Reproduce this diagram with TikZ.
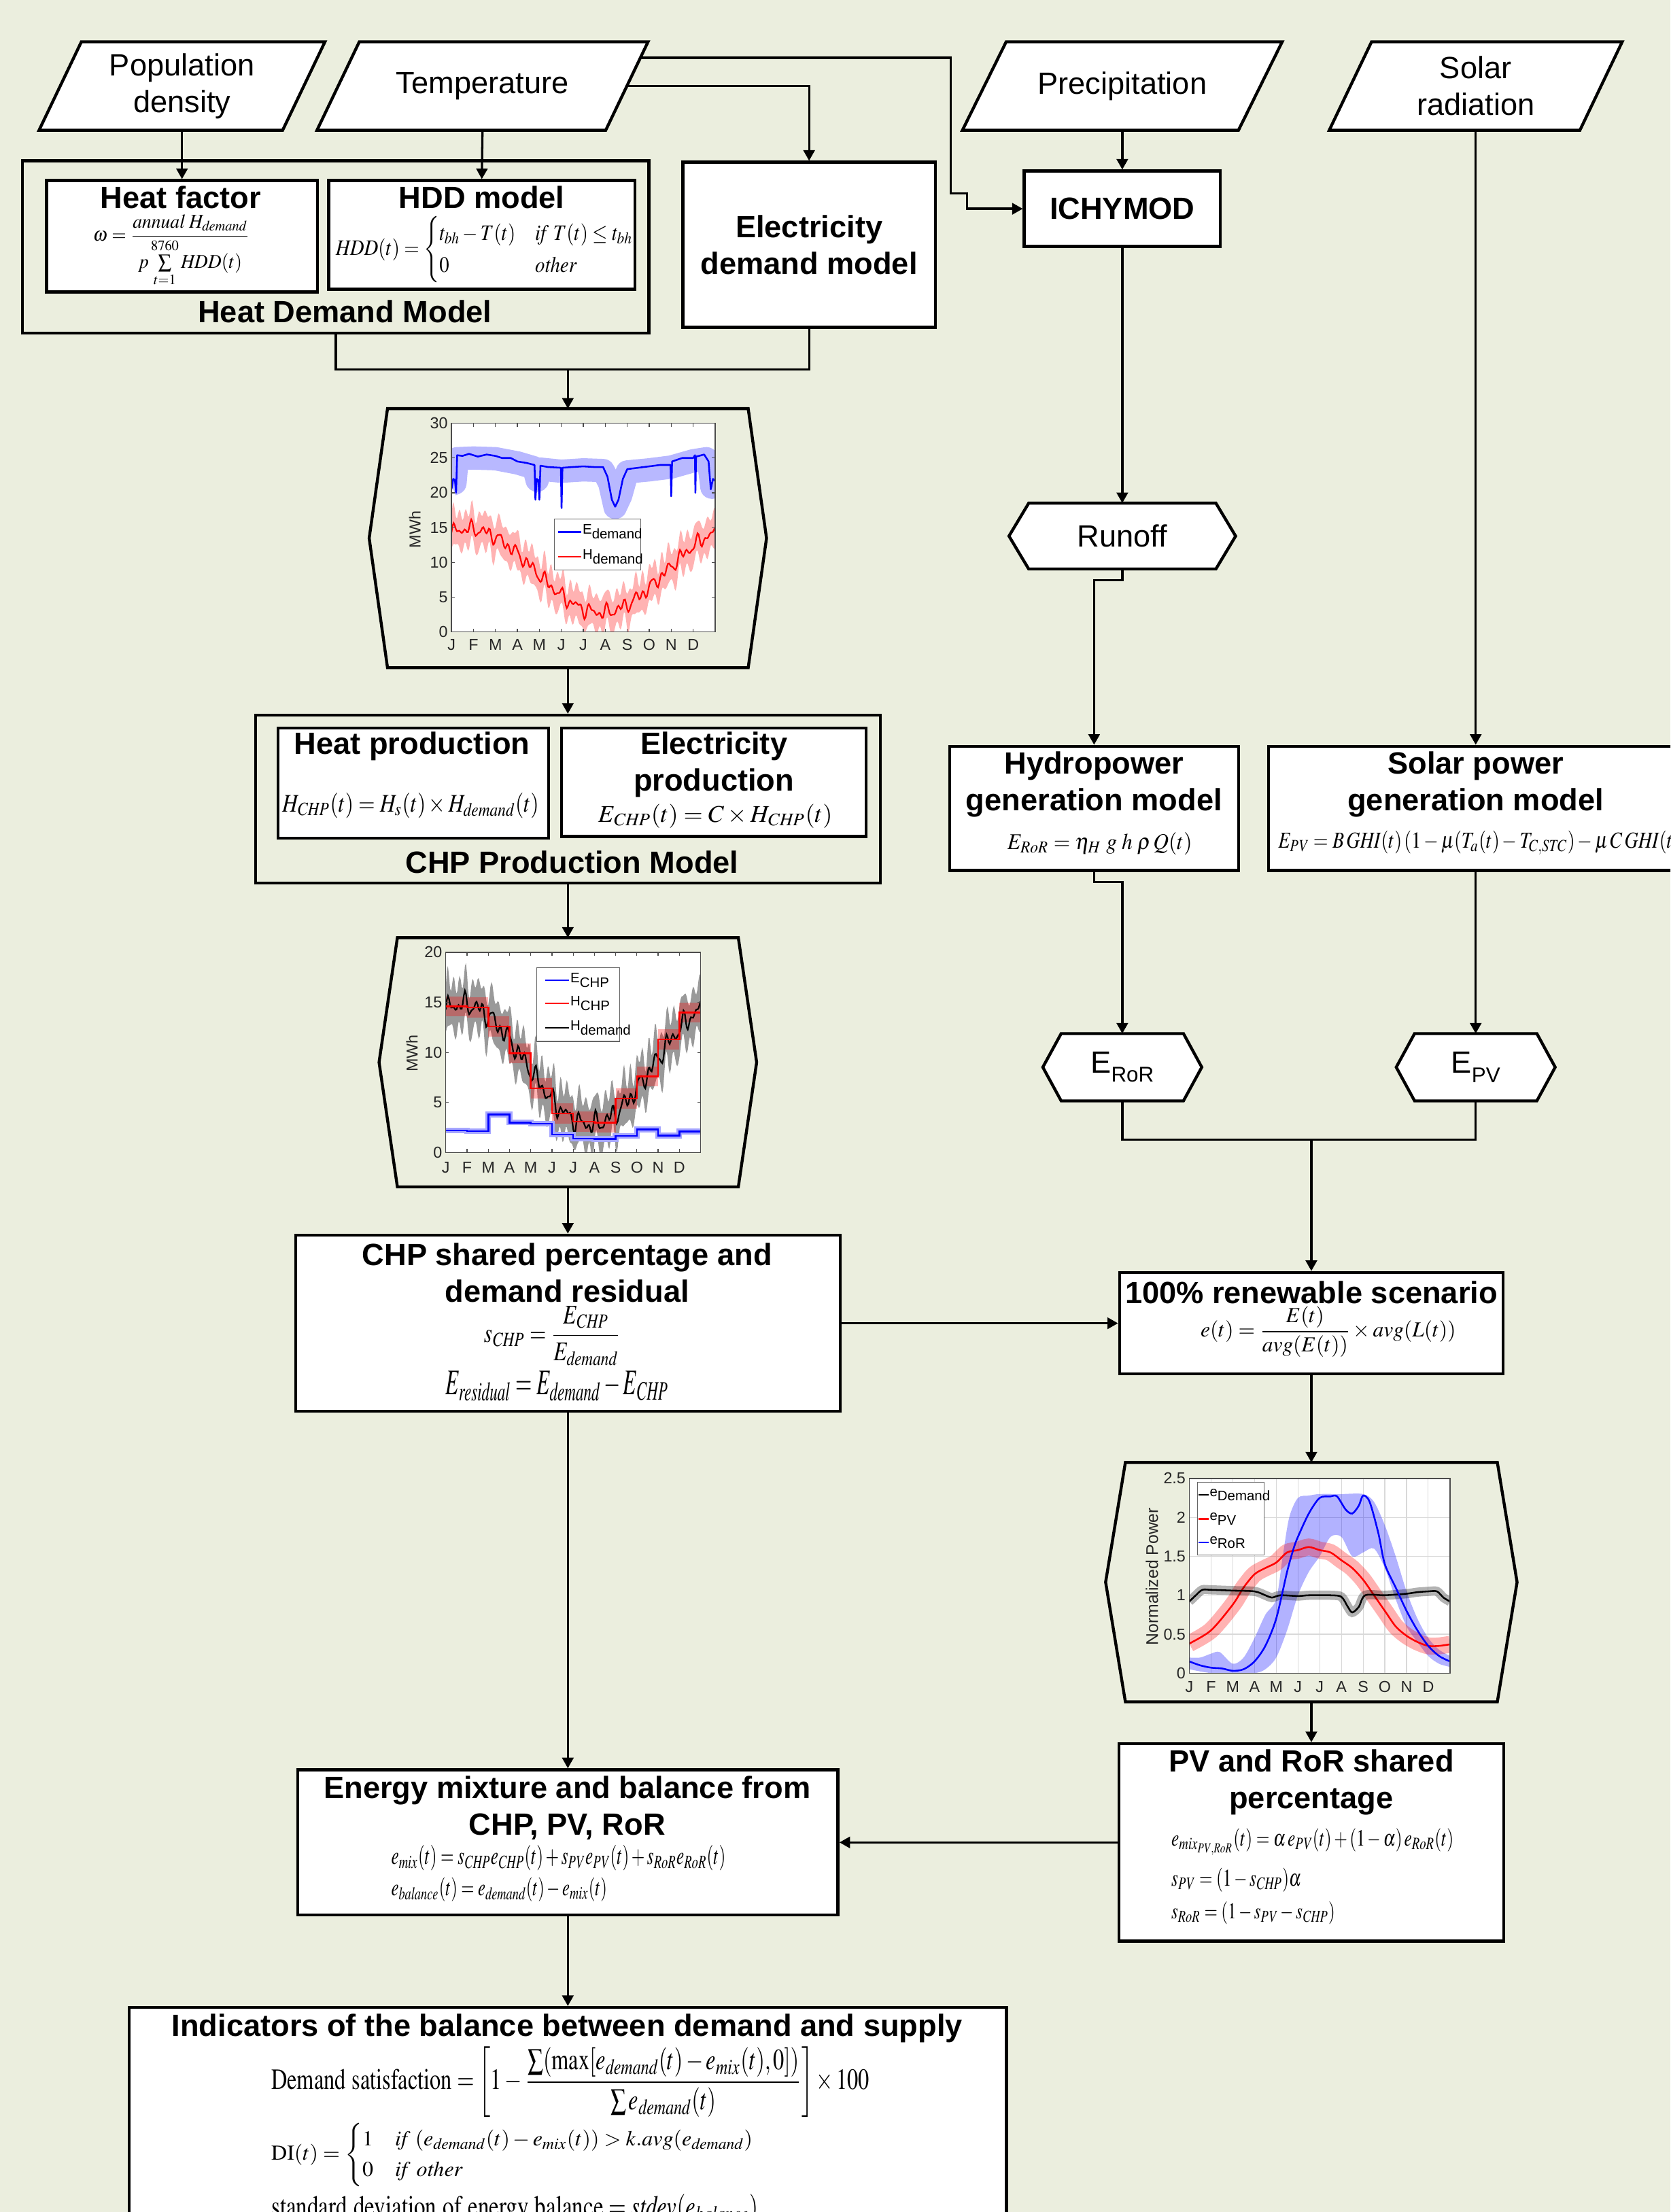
\documentclass[tikz,border=0pt]{standalone}
\usepackage{amsmath}
\usepackage{mathptmx}
\usepackage[no-math]{fontspec}
\setmainfont{Liberation Sans}
\usetikzlibrary{arrows.meta}

\definecolor{paper}{RGB}{235,238,222}

% noisy heat demand curve, x in months
\newcommand{\Hdem}{(8.8+6.0*cos(30*(\x-0.8))+0.6*sin(523*\x)+0.5*sin(877*\x)+0.35*sin(1291*\x))}
% frames drawn round a (ghost) node
\newcommand{\slantframe}[2]{\draw[line width=1.2pt, fill=white] ([xshift=#2]#1.north west) -- ([xshift=#2]#1.north east) -- ([xshift=-#2]#1.south east) -- ([xshift=-#2]#1.south west) -- cycle;}
\newcommand{\hexframe}[3]{\draw[line width=1.2pt, fill=#3] (#1.north west) -- (#1.north east) -- ([xshift=#2]#1.east) -- (#1.south east) -- (#1.south west) -- ([xshift=-#2]#1.west) -- cycle;}
\newcommand{\fiteq}[3]{\resizebox*{#1}{#2}{$\displaystyle #3$}}
\newcommand{\lsub}[2]{#1\raisebox{-0.6ex}{#2}}
\newcommand{\hsub}[2]{#1\raisebox{-0.55ex}{\fontsize{8.6}{9}\selectfont #2}}

\begin{document}
\begin{tikzpicture}[x=0.02cm, y=-0.02cm,
    box/.style={draw, line width=1.2pt, fill=white, inner sep=0pt},
    grp/.style={draw, line width=1.2pt, inner sep=0pt},
    ghost/.style={inner sep=0pt},
    flow/.style={line width=0.9pt, -{Triangle[length=0.15cm, width=0.16cm]}},
    wire/.style={line width=0.9pt},
    ttl/.style={font=\bfseries\fontsize{12.4}{14.8}\selectfont, align=center, inner sep=0pt},
    lbl/.style={font=\fontsize{12.4}{14.8}\selectfont, align=center, inner sep=0pt},
    eq/.style={inner sep=0pt},
    ticklbl/.style={font=\fontsize{6.4}{7}\selectfont, inner sep=0pt, text=black!85},
    leg/.style={font=\fontsize{5.6}{6}\selectfont, inner sep=0pt, anchor=west},
    axisbox/.style={draw=black!70, line width=0.35pt},
    legbox/.style={draw=black!60, fill=white, line width=0.3pt}]

    \useasboundingbox (0,0) rectangle (1184,1568);
    \clip (0,0) rectangle (1184,1568);
    \fill[paper] (0,0) rectangle (1184,1568);

    % Input data
    \node[ghost, minimum width=3.44cm, minimum height=1.24cm] (pop) at (129,61) {};
    \slantframe{pop}{0.3cm}
    \node[lbl] (poptxt) at (pop.center) {Population\\density};
    \node[ghost, minimum width=4.08cm, minimum height=1.24cm] (temp) at (342,61) {};
    \slantframe{temp}{0.3cm}
    \node[lbl] (temptxt) at (temp.center) {Temperature};
    \node[ghost, minimum width=3.9cm, minimum height=1.24cm] (precip) at (795.5,61) {};
    \slantframe{precip}{0.31cm}
    \node[lbl] (preciptxt) at (precip.center) {Precipitation};
    \node[ghost, minimum width=3.54cm, minimum height=1.24cm] (solar) at (1046,61) {};
    \slantframe{solar}{0.3cm}
    \node[lbl] (solartxt) at (solar.center) {Solar\\radiation};

    % Heat Demand Model
    \node[grp, minimum width=8.88cm, minimum height=2.44cm] (heatdem) at (238,175) {};
    \node[box, minimum width=3.84cm, minimum height=1.58cm] (heatfac) at (129,167.5) {};
    \node[ttl] (heatfactxt) at (128,140) {Heat factor};
    \node[eq] (heatfaceq) at (121.5,177.5) {\fiteq{2.22cm}{1.02cm}{\omega=\frac{\mathit{annual}\;H_{\mathit{demand}}}{p\sum\limits_{t=1}^{8760}\mathit{HDD}(t)}}};
    \node[box, minimum width=4.34cm, minimum height=1.54cm] (hdd) at (341.5,166.5) {};
    \node[ttl] (hddtxt) at (341.5,140) {HDD model};
    \node[eq] (hddeq) at (344,177) {\fiteq{4.24cm}{0.94cm}{\mathit{HDD}(t)=\begin{cases}t_{bh}-T(t) & \mathit{if}\;T(t)\le t_{bh}\\ 0 & \mathit{other}\end{cases}}};
    \node[ttl] (heatdemtxt) at (244.5,221) {Heat Demand Model};

    % Electricity demand and hydrology
    \node[box, ttl, minimum width=3.58cm, minimum height=2.34cm] (elecdem) at (573.5,173.5) {Electricity\\demand model};
    \node[box, ttl, minimum width=2.78cm, minimum height=1.07cm] (ichymod) at (795.5,148) {ICHYMOD};
    \node[ghost, minimum width=2.64cm, minimum height=0.92cm] (runoff) at (795.5,380) {};
    \hexframe{runoff}{0.28cm}{white}
    \node[lbl] (runofftxt) at (runoff.center) {Runoff};

    % CHP Production Model
    \node[grp, minimum width=8.86cm, minimum height=2.38cm] (chpmodel) at (402.5,566.5) {};
    \node[box, minimum width=3.84cm, minimum height=1.56cm] (heatprod) at (293,555) {};
    \node[ttl] (heatprodtxt) at (292,529) {Heat production};
    \node[eq] (heatprodeq) at (291,571) {\fiteq{3.64cm}{0.36cm}{H_{\mathit{CHP}}(t)=H_s(t)\times H_{\mathit{demand}}(t)}};
    \node[box, minimum width=4.32cm, minimum height=1.54cm] (elecprod) at (506,554.5) {};
    \node[ttl] (elecprodtxt) at (506,542) {Electricity\\production};
    \node[eq] (elecprodeq) at (507,578.5) {\fiteq{3.32cm}{0.34cm}{E_{\mathit{CHP}}(t)=C\times H_{\mathit{CHP}}(t)}};
    \node[ttl] (chpmodeltxt) at (405.5,611) {CHP Production Model};

    % Generation models
    \node[box, minimum width=4.1cm, minimum height=1.76cm] (hydro) at (775.5,573) {};
    \node[ttl] (hydrotxt) at (775.5,556) {Hydropower\\generation model};
    \node[eq] (hydroeq) at (779.5,598) {\fiteq{2.62cm}{0.32cm}{E_{\mathit{RoR}}=\eta_H\;g\;h\;\rho\,Q(t)}};
    \node[box, minimum width=5.88cm, minimum height=1.76cm] (solarpow) at (1046,573) {};
    \node[ttl] (solarpowtxt) at (1046,556) {Solar power\\generation model};
    \node[eq] (solarpoweq) at (1048.5,597.5) {\fiteq{5.7cm}{0.34cm}{E_{\mathit{PV}}=B\,\mathit{GHI}(t)\,(1-\mu(T_a(t)-T_{C,\mathit{STC}})-\mu\,C\,\mathit{GHI}(t)}};

    \node[ghost, minimum width=1.72cm, minimum height=0.94cm] (eror) at (795.5,756.5) {};
    \hexframe{eror}{0.26cm}{white}
    \node[lbl] (erortxt) at (eror.center) {\hsub{E}{RoR}};
    \node[ghost, minimum width=1.72cm, minimum height=0.94cm] (epv) at (1046,756.5) {};
    \hexframe{epv}{0.26cm}{white}
    \node[lbl] (epvtxt) at (epv.center) {\hsub{E}{PV}};

    % Shares and scenario
    \node[box, minimum width=7.72cm, minimum height=2.5cm] (chpshare) at (402.5,938) {};
    \node[ttl] (chpsharetxt) at (402,902) {CHP shared percentage and\\demand residual};
    \node[eq] (chpshareeq) at (391.5,947) {\fiteq{1.94cm}{0.84cm}{s_{\mathit{CHP}}=\frac{E_{\mathit{CHP}}}{E_{\mathit{demand}}}}};
    \node[eq] (residualeq) at (395,982.5) {\fiteq{3.16cm}{0.42cm}{E_{\mathit{residual}}=E_{\mathit{demand}}-E_{\mathit{CHP}}}};
    \node[box, minimum width=5.44cm, minimum height=1.44cm] (renew) at (929.5,938) {};
    \node[ttl] (renewtxt) at (929.5,916) {100\% renewable scenario};
    \node[eq] (reneweq) at (941.5,944) {\fiteq{3.62cm}{0.72cm}{e(t)=\frac{E(t)}{\mathit{avg}(E(t))}\times\mathit{avg}(L(t))}};

    \node[box, minimum width=5.46cm, minimum height=2.8cm] (pvror) at (929.5,1306) {};
    \node[ttl] (pvrortxt) at (929.5,1263.5) {PV and RoR shared\\percentage};
    \node[eq, anchor=west] (pvroreqa) at (830,1305.5) {\fiteq{4.0cm}{0.38cm}{e_{\mathit{mix}_{\mathit{PV},\mathit{RoR}}}(t)=\alpha\,e_{\mathit{PV}}(t)+(1-\alpha)\,e_{\mathit{RoR}}(t)}};
    \node[eq, anchor=west] (pvroreqb) at (830,1332.5) {\fiteq{1.84cm}{0.34cm}{s_{\mathit{PV}}=(1-s_{\mathit{CHP}})\alpha}};
    \node[eq, anchor=west] (pvroreqc) at (830,1356) {\fiteq{2.32cm}{0.32cm}{s_{\mathit{RoR}}=(1-s_{\mathit{PV}}-s_{\mathit{CHP}})}};

    \node[box, minimum width=7.66cm, minimum height=2.06cm] (mix) at (402.5,1306) {};
    \node[ttl] (mixtxt) at (402,1281.5) {Energy mixture and balance from\\CHP, PV, RoR};
    \node[eq, anchor=west] (mixeqa) at (277,1317) {\fiteq{4.74cm}{0.36cm}{e_{\mathit{mix}}(t)=s_{\mathit{CHP}}e_{\mathit{CHP}}(t)+s_{\mathit{PV}}e_{\mathit{PV}}(t)+s_{\mathit{RoR}}e_{\mathit{RoR}}(t)}};
    \node[eq, anchor=west] (mixeqb) at (277,1339.5) {\fiteq{3.06cm}{0.34cm}{e_{\mathit{balance}}(t)=e_{\mathit{demand}}(t)-e_{\mathit{mix}}(t)}};

    % Indicators
    \node[box, minimum width=12.44cm, minimum height=3.54cm] (indic) at (402.5,1511.5) {};
    \node[ttl] (indictxt) at (402,1438) {Indicators of the balance between demand and supply};
    \node[eq, anchor=west] (satiseq) at (192,1476) {\fiteq{8.48cm}{1.0cm}{\mathrm{Demand\ satisfaction}=\left[1-\frac{\sum(\max[e_{\mathit{demand}}(t)-e_{\mathit{mix}}(t),0])}{\sum e_{\mathit{demand}}(t)}\right]\times 100}};
    \node[eq, anchor=west] (dieq) at (192,1527.5) {\fiteq{6.86cm}{0.9cm}{\mathrm{DI}(t)=\begin{cases}1 & \mathit{if}\;(e_{\mathit{demand}}(t)-e_{\mathit{mix}}(t))>k.\mathit{avg}(e_{\mathit{demand}})\\ 0 & \mathit{if\ other}\end{cases}}};
    \node[eq, anchor=west] (stdeq) at (192,1566) {\fiteq{6.9cm}{0.42cm}{\mathrm{standard\ deviation\ of\ energy\ balance}=\mathit{stdev}(e_{\mathit{balance}})}};

    % Plot frames
    \node[ghost, minimum width=5.1cm, minimum height=3.66cm] (plotA) at (402.5,381.5) {};
    \hexframe{plotA}{0.26cm}{none}
    \node[ghost, minimum width=4.82cm, minimum height=3.52cm] (plotB) at (402.5,753) {};
    \hexframe{plotB}{0.26cm}{none}
    \node[ghost, minimum width=5.26cm, minimum height=3.38cm] (plotC) at (929.5,1121.5) {};
    \hexframe{plotC}{0.28cm}{none}

    % Demand plot
    \begin{scope}[shift={(320,448)}, x=0.3116cm, y=0.0987cm]
        \fill[white] (0,0) rectangle (12,30);
        \begin{scope}
            \clip (0,0) rectangle (12,30);
            \fill[red!30] plot[domain=0:12, samples=241] (\x,{\Hdem+2.4+0.7*sin(1213*\x)}) -- plot[domain=12:0, samples=241] (\x,{\Hdem-2.4-0.6*sin(997*\x)}) -- cycle;
            \draw[red, line width=0.6pt] plot[domain=0:12, samples=241] (\x,{\Hdem});
            \draw[blue!28, line width=0.33cm, line join=round] plot coordinates {(0,21.2) (0.16,21.4) (0.26,24.9) (1,25.0) (2,24.9) (3,24.3) (3.75,23.6) (3.9,21.8) (4.05,23.4) (5,23.1) (6,23.3) (6.9,23.2) (7.2,21.4) (7.45,17.9) (7.7,19.6) (8.0,23.0) (9,23.3) (10,23.7) (11,24.6) (11.6,24.9) (11.75,23.4) (11.85,20.8) (12,21.4)};
            \draw[blue, line width=0.7pt, line join=round] plot coordinates {(0,20.5) (0.08,22) (0.16,21.8) (0.21,20) (0.26,25.4) (0.5,25.3) (0.8,25.6) (1.2,25.2) (1.6,25.5) (2.0,25.3) (2.3,25.0) (2.7,25.0) (3.0,24.5) (3.4,24.3) (3.78,24) (3.82,19) (3.88,22) (3.96,21.8) (4.0,19) (4.05,23.9) (4.4,23.7) (4.98,23.6) (5.01,17.8) (5.05,23.6) (5.5,23.7) (6.0,23.8) (6.5,23.7) (6.9,23.7) (7.1,22.3) (7.3,19) (7.45,18) (7.6,19) (7.8,22) (8.0,23.4) (8.5,23.6) (9.0,23.8) (9.5,24) (9.97,24.0) (10.0,19.5) (10.04,24.5) (10.5,25.0) (11.0,25.0) (11.08,25.4) (11.1,20) (11.13,25.2) (11.5,25.5) (11.7,24.5) (11.8,20.5) (11.9,22) (12,21.7)};
        \end{scope}
        \draw[axisbox] (0,0) rectangle (12,30);
        \foreach \v [count=\i] in {0,5,...,30} {
            \draw[axisbox] (0,\v) -- (0.15,\v) (12,\v) -- (11.85,\v);
            \node[ticklbl, anchor=east] (yA\i) at (-0.15,\v) {\v};
        }
        \foreach \mo [count=\i from 0] in {J,F,M,A,M,J,J,A,S,O,N,D} {
            \draw[axisbox] (\i,0) -- (\i,0.5) (\i,30) -- (\i,29.5);
            \node[ticklbl] (xA\i) at (\i,-1.8) {\mo};
        }
        \node[ticklbl, rotate=90] (ylabA) at (-1.67,14.7) {MWh};
        \draw[legbox] (4.69,8.9) rectangle (8.6,16.2);
        \draw[blue, line width=0.7pt] (4.85,14.4) -- (5.9,14.4);
        \node[leg] (legA1) at (5.95,14.4) {\lsub{E}{demand}};
        \draw[red, line width=0.7pt] (4.85,10.8) -- (5.9,10.8);
        \node[leg] (legA2) at (5.95,10.8) {\lsub{H}{demand}};
    \end{scope}

    % CHP plot
    \begin{scope}[shift={(316,817)}, x=0.301cm, y=0.142cm]
        \fill[white] (0,0) rectangle (12,20);
        \begin{scope}
            \clip (0,0) rectangle (12,20);
            \fill[black!40] plot[domain=0:12, samples=241] (\x,{\Hdem+2.3+0.8*sin(1213*\x)}) -- plot[domain=12:0, samples=241] (\x,{\Hdem-2.3-0.7*sin(997*\x)}) -- cycle;
            \foreach \v [count=\i from 0] in {14.6,14.5,12.6,9.9,6.4,3.9,3.1,3.0,5.4,7.6,11.3,14.0}
                \fill[red, opacity=0.3] (\i,\v-1) rectangle (\i+1,\v+1);
            \draw[black, line width=0.6pt] plot[domain=0:12, samples=241] (\x,{\Hdem});
            \draw[red, line width=0.7pt] (0,14.6) -| (1,14.5) -| (2,12.6) -| (3,9.9) -| (4,6.4) -| (5,3.9) -| (6,3.1) -| (7,3.0) -| (8,5.4) -| (9,7.6) -| (10,11.3) -| (11,14.0) -- (12,14.0);
            \draw[blue, line width=0.7pt, preaction={draw=blue!35, line width=0.08cm}] (0,2.2) -| (1,2.15) -| (2,3.8) -| (3,3.0) -| (4,2.9) -| (5,1.8) -| (6,1.4) -| (7,1.35) -| (8,1.65) -| (9,2.3) -| (10,1.7) -| (11,2.1) -- (12,2.1);
        \end{scope}
        \draw[axisbox] (0,0) rectangle (12,20);
        \foreach \v [count=\i] in {0,5,...,20} {
            \draw[axisbox] (0,\v) -- (0.15,\v) (12,\v) -- (11.85,\v);
            \node[ticklbl, anchor=east] (yB\i) at (-0.15,\v) {\v};
        }
        \foreach \mo [count=\i from 0] in {J,F,M,A,M,J,J,A,S,O,N,D} {
            \draw[axisbox] (\i,0) -- (\i,0.35) (\i,20) -- (\i,19.65);
            \node[ticklbl] (xB\i) at (\i,-1.5) {\mo};
        }
        \node[ticklbl, rotate=90] (ylabB) at (-1.6,9.9) {MWh};
        \draw[legbox] (4.27,11.1) rectangle (8.2,18.45);
        \draw[blue, line width=0.7pt] (4.67,17.2) -- (5.8,17.2);
        \node[leg] (legB1) at (5.85,17.2) {\lsub{E}{CHP}};
        \draw[red, line width=0.7pt] (4.67,14.9) -- (5.8,14.9);
        \node[leg] (legB2) at (5.85,14.9) {\lsub{H}{CHP}};
        \draw[black, line width=0.7pt] (4.67,12.45) -- (5.8,12.45);
        \node[leg] (legB3) at (5.85,12.45) {\lsub{H}{demand}};
    \end{scope}

    % Normalized power plot
    \begin{scope}[shift={(843,1186)}, x=0.308cm, y=1.104cm]
        \fill[white] (0,0) rectangle (12,2.5);
        \foreach \m in {1,...,11} \draw[black!15, line width=0.3pt] (\m,0) -- (\m,2.5);
        \foreach \v in {0.5,1,1.5,2} \draw[black!15, line width=0.3pt] (0,\v) -- (12,\v);
        \begin{scope}
            \clip (0,0) rectangle (12,2.5);
            \fill[blue, opacity=0.3] plot[smooth] coordinates {(0,0.2) (0.5,0.2) (1,0.25) (1.4,0.27) (2,0.12) (2.5,0.2) (3,0.45) (3.5,0.75) (4,0.95) (4.3,1.5) (4.6,2.0) (5,2.25) (5.5,2.28) (6,2.3) (7,2.3) (8,2.3) (8.5,2.2) (9,1.9) (9.5,1.5) (10,1.05) (10.5,0.7) (11,0.45) (11.5,0.3) (12,0.22)} -- plot[smooth] coordinates {(12,0.08) (11.5,0.12) (11,0.22) (10.5,0.4) (10,0.6) (9.5,0.95) (9,1.35) (8.5,1.6) (8,1.55) (7.5,1.5) (7,1.75) (6.5,1.75) (6,1.5) (5.5,1.3) (5,1.0) (4.5,0.55) (4,0.2) (3.5,0.05) (3,0) (2,0) (1,0) (0,0.05)} -- cycle;
            \draw[red, line width=0.7pt, preaction={draw=red, draw opacity=0.3, line width=0.24cm}] plot[smooth] coordinates {(0,0.38) (1,0.55) (2,0.88) (2.5,1.1) (3,1.27) (3.5,1.35) (4,1.42) (4.5,1.55) (5,1.58) (5.5,1.62) (6,1.58) (6.5,1.55) (7,1.45) (7.5,1.35) (8,1.2) (8.5,1.0) (9,0.8) (9.5,0.6) (10,0.48) (10.5,0.4) (11,0.35) (11.5,0.35) (12,0.37)};
            \draw[black, line width=0.7pt, preaction={draw=black, draw opacity=0.3, line width=0.13cm}] plot[smooth] coordinates {(0,0.92) (0.3,1.0) (0.6,1.07) (1,1.07) (2,1.06) (3,1.05) (3.5,1.0) (3.8,0.97) (4.2,1.0) (5,0.99) (5.5,1.0) (6.5,1.0) (7,0.98) (7.3,0.85) (7.5,0.78) (7.8,0.85) (8.1,1.0) (9,1.0) (10,1.02) (10.5,1.04) (11,1.05) (11.4,1.05) (11.7,0.97) (12,0.92)};
            \draw[blue, line width=0.7pt] plot[smooth] coordinates {(0,0.15) (0.5,0.1) (1,0.07) (1.5,0.06) (2,0.03) (2.5,0.05) (3,0.15) (3.5,0.35) (4,0.7) (4.5,1.3) (4.8,1.6) (5,1.75) (5.5,2.05) (6,2.25) (6.5,2.27) (6.8,2.27) (7.2,2.1) (7.5,2.05) (7.8,2.15) (8,2.28) (8.3,2.2) (8.7,1.8) (9,1.4) (9.5,1.1) (10,0.8) (10.5,0.55) (11,0.35) (11.5,0.22) (12,0.15)};
        \end{scope}
        \draw[axisbox] (0,0) rectangle (12,2.5);
        \foreach \v [count=\i] in {0,0.5,1,1.5,2,2.5}
            \node[ticklbl, anchor=east] (yC\i) at (-0.15,\v) {\v};
        \foreach \mo [count=\i from 0] in {J,F,M,A,M,J,J,A,S,O,N,D}
            \node[ticklbl] (xC\i) at (\i,-0.18) {\mo};
        \node[ticklbl, font=\fontsize{6.8}{7}\selectfont, rotate=90] (ylabC) at (-1.72,1.24) {Normalized Power};
        \draw[legbox] (0.39,1.52) rectangle (3.44,2.45);
        \draw[black, line width=0.7pt] (0.42,2.29) -- (0.88,2.29);
        \node[leg] (legC1) at (0.92,2.29) {\lsub{e}{Demand}};
        \draw[red, line width=0.7pt] (0.42,1.98) -- (0.88,1.98);
        \node[leg] (legC2) at (0.92,1.98) {\lsub{e}{PV}};
        \draw[blue, line width=0.7pt] (0.42,1.68) -- (0.88,1.68);
        \node[leg] (legC3) at (0.92,1.68) {\lsub{e}{RoR}};
    \end{scope}

    % Edges
    \coordinate (tempout) at (453.7,41);
    \coordinate (j1) at (402.5,262);
    \coordinate (j2) at (929.5,808);
    \draw[flow] (pop.south) -- (heatfac.north);
    \draw[flow] (temp.south) -- (hdd.north);
    \draw[flow] (temp.east) -| (elecdem.north);
    \draw[flow] (tempout) -- (674,41) -- (674,137) -- (685.5,137) |- (ichymod.west);
    \draw[flow] (precip.south) -- (ichymod.north);
    \draw[flow] (ichymod.south) -- (runoff.north);
    \draw[flow] (runoff.south) -- ++(0,8) -| (hydro.north);
    \draw[flow] (solar.south) -- (solarpow.north);
    \draw[wire] (heatdem.south) |- (j1) -| (elecdem.south);
    \draw[flow] (j1) -- (plotA.north);
    \draw[flow] (plotA.south) -- (chpmodel.north);
    \draw[flow] (chpmodel.south) -- (plotB.north);
    \draw[flow] (plotB.south) -- (chpshare.north);
    \draw[flow] (hydro.south) -- ++(0,7) -| (eror.north);
    \draw[flow] (solarpow.south) -- (epv.north);
    \draw[wire] (eror.south) |- (j2) -| (epv.south);
    \draw[flow] (j2) -- (renew.north);
    \draw[flow] (chpshare.east) -- (renew.west);
    \draw[flow] (renew.south) -- (plotC.north);
    \draw[flow] (plotC.south) -- (pvror.north);
    \draw[flow] (pvror.west) -- (mix.east);
    \draw[flow] (chpshare.south) -- (mix.north);
    \draw[flow] (mix.south) -- (indic.north);
\end{tikzpicture}
\end{document}
